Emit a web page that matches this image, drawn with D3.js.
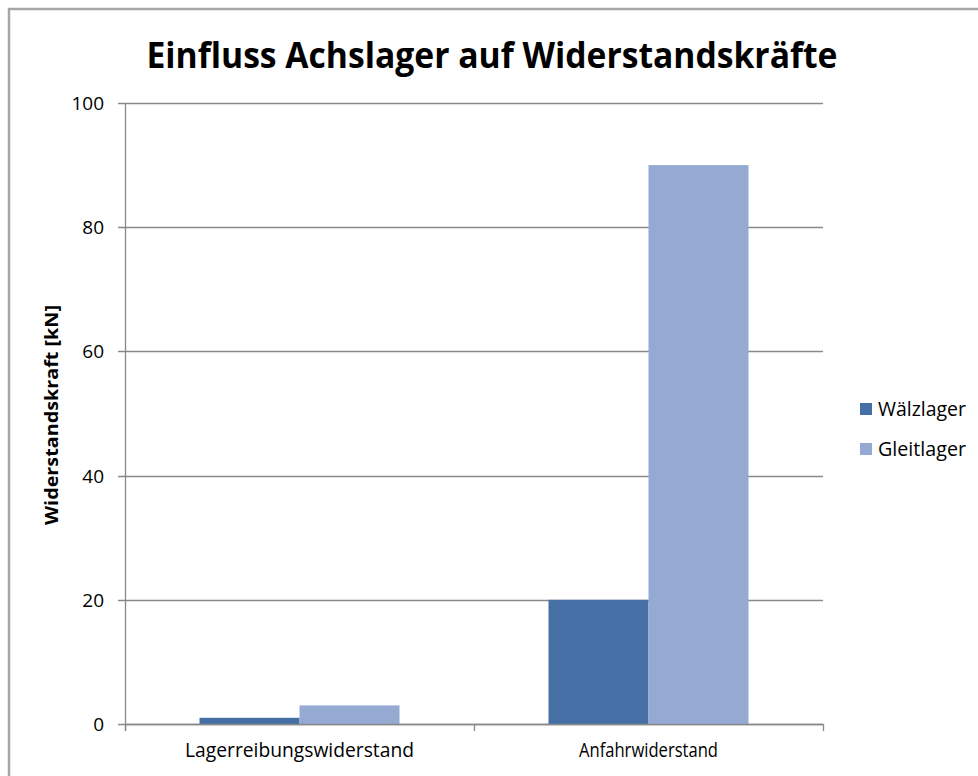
<!DOCTYPE html>
<html>
<head>
<meta charset="utf-8">
<script src="https://cdn.jsdelivr.net/npm/d3@7"></script>
<style>
  html, body { margin: 0; padding: 0; background: #fff; }
  svg { display: block; }
  text { font-family: "Open Sans", "DejaVu Sans", sans-serif; fill: #000; }
</style>
</head>
<body>
<svg id="chart" width="978" height="776"></svg>
<script>
// Chart data
const categories = ["Lagerreibungswiderstand", "Anfahrwiderstand"];
const seriesNames = ["Wälzlager", "Gleitlager"];
const waelzlager = [1, 20];
const gleitlager = [3, 90];
const yTicks = [0, 20, 40, 60, 80, 100];
const titleText = "Einfluss Achslager auf Widerstandskräfte";
const yAxisTitle = "Widerstandskraft  [kN]";

const seriesValues = [waelzlager, gleitlager];
const colors = ["#4470a6", "#94aad2"];

const svg = d3.select("#chart");
const W = 978, H = 776;

// Outer frame
svg.append("path")
  .attr("d", `M9,${H} L9,9 L${W},9`)
  .attr("fill", "none")
  .attr("stroke", "#a6a6a6")
  .attr("stroke-width", 2.5);

const plot = { left: 125, right: 823, top: 103, bottom: 724 };

const y = d3.scaleLinear().domain([0, 100]).range([plot.bottom, plot.top]);
const x0 = d3.scaleBand().domain(categories).range([plot.left, plot.right]);
const groupWidth = 200;
const x1 = d3.scaleBand().domain(seriesNames).range([0, groupWidth]);

// Title
svg.append("text")
  .attr("x", 492).attr("y", 68)
  .attr("text-anchor", "middle")
  .attr("font-size", 35)
  .attr("font-weight", "bold")
  .attr("textLength", 691)
  .attr("lengthAdjust", "spacingAndGlyphs")
  .text(titleText);

// Horizontal gridlines with tick stubs
svg.append("g").selectAll("line.grid")
  .data(yTicks)
  .join("line")
  .attr("class", "grid")
  .attr("x1", plot.left - 7).attr("x2", plot.right)
  .attr("y1", d => Math.round(y(d)) + 0.5).attr("y2", d => Math.round(y(d)) + 0.5)
  .attr("stroke", "#898989").attr("stroke-width", 1.3);

// Y axis line
svg.append("line")
  .attr("x1", plot.left + 0.5).attr("x2", plot.left + 0.5)
  .attr("y1", plot.top).attr("y2", plot.bottom + 7)
  .attr("stroke", "#898989").attr("stroke-width", 1.3);

// Y tick labels
svg.selectAll("text.ytick")
  .data(yTicks)
  .join("text")
  .attr("class", "ytick")
  .attr("x", 104)
  .attr("y", d => y(d) + 7)
  .attr("text-anchor", "end")
  .attr("font-size", 19)
  .text(d => d);

// Bars
const groups = svg.selectAll("g.cat")
  .data(categories)
  .join("g")
  .attr("class", "cat")
  .attr("transform", c => `translate(${x0(c) + (x0.bandwidth() - groupWidth) / 2},0)`);

groups.selectAll("rect")
  .data((c, i) => seriesNames.map((s, j) => ({ s, v: seriesValues[j][i], j })))
  .join("rect")
  .attr("x", d => x1(d.s))
  .attr("width", x1.bandwidth())
  .attr("y", d => y(d.v))
  .attr("height", d => y(0) - y(d.v))
  .attr("fill", d => colors[d.j]);

// X axis baseline and category tick marks
svg.append("line")
  .attr("x1", plot.left).attr("x2", plot.right)
  .attr("y1", plot.bottom + 0.5).attr("y2", plot.bottom + 0.5)
  .attr("stroke", "#898989").attr("stroke-width", 1.3);
const catEdges = [plot.left, ...categories.map(c => x0(c) + x0.bandwidth())];
svg.selectAll("line.xtick")
  .data(catEdges)
  .join("line")
  .attr("class", "xtick")
  .attr("x1", d => d + 0.5).attr("x2", d => d + 0.5)
  .attr("y1", plot.bottom).attr("y2", plot.bottom + 7)
  .attr("stroke", "#898989").attr("stroke-width", 1.3);

// Category labels
const catWidths = [229, 139];
svg.selectAll("text.xlabel")
  .data(categories)
  .join("text")
  .attr("class", "xlabel")
  .attr("x", c => x0(c) + x0.bandwidth() / 2)
  .attr("y", 757)
  .attr("text-anchor", "middle")
  .attr("font-size", 20)
  .attr("textLength", (c, i) => catWidths[i])
  .attr("lengthAdjust", "spacingAndGlyphs")
  .text(c => c);

// Y axis title
svg.append("text")
  .attr("transform", "translate(58,415) rotate(-90)")
  .attr("text-anchor", "middle")
  .attr("font-size", 18)
  .attr("font-weight", "bold")
  .attr("textLength", 220)
  .attr("lengthAdjust", "spacingAndGlyphs")
  .text(yAxisTitle);

// Legend
const legend = svg.selectAll("g.legend")
  .data(seriesNames)
  .join("g")
  .attr("class", "legend")
  .attr("transform", (d, i) => `translate(860,${403 + i * 40})`);
legend.append("rect")
  .attr("width", 12).attr("height", 12)
  .attr("fill", (d, i) => colors[i]);
legend.append("text")
  .attr("x", 18).attr("y", 13)
  .attr("font-size", 20)
  .attr("textLength", 88)
  .attr("lengthAdjust", "spacingAndGlyphs")
  .text(d => d);
</script>
</body>
</html>
